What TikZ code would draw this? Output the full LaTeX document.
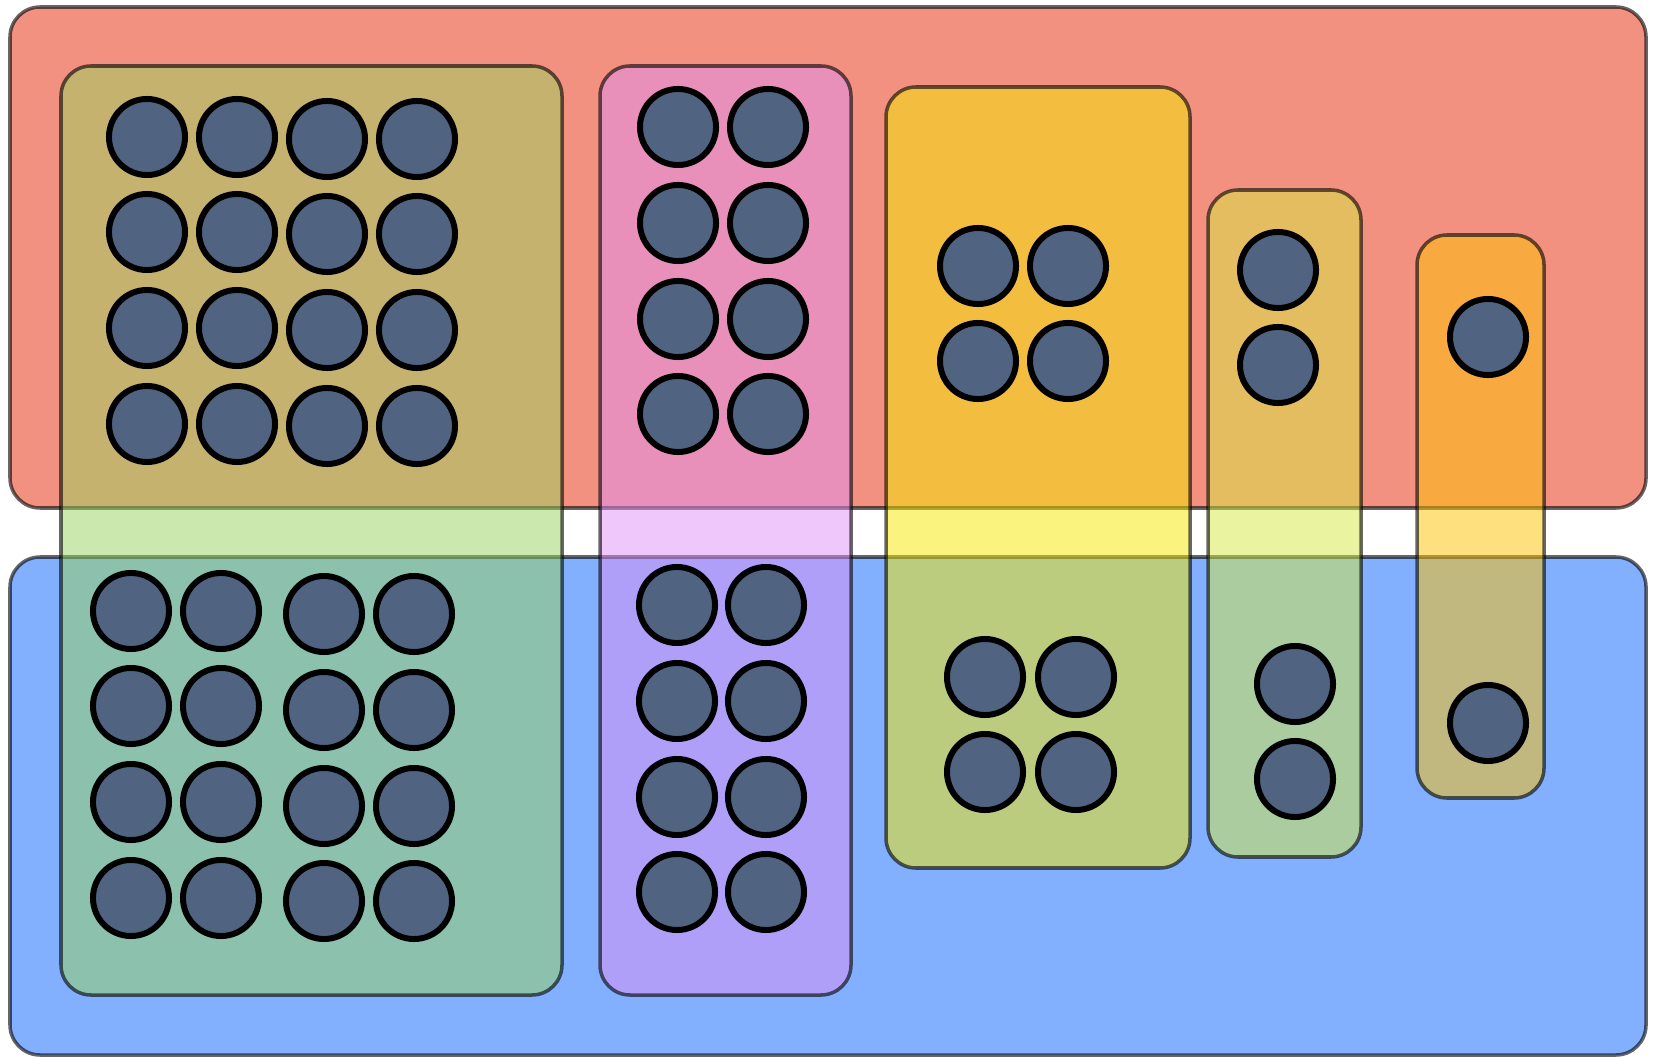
\documentclass[tikz,border=0pt]{standalone}
\definecolor{topred}{RGB}{242,145,128}
\definecolor{botblue}{RGB}{130,176,255}
\definecolor{boxgreen}{RGB}{151,211,93}
\definecolor{boxpink}{RGB}{223,143,245}
\definecolor{boxyellow}{RGB}{245,233,0}
\definecolor{boxlime}{RGB}{213,233,65}
\definecolor{boxorange}{RGB}{255,193,0}
\definecolor{ballblue}{RGB}{80,100,130}
\begin{document}
\begin{tikzpicture}[x=0.01cm, y=-0.01cm,
  ball/.style={circle, draw=black, line width=1.7pt, fill=ballblue, minimum size=0.76cm, inner sep=0pt},
  band/.style={draw=black, draw opacity=0.6, line width=1pt, rounded corners=0.3cm},
  bin/.style={draw=black, draw opacity=0.6, fill opacity=0.5, line width=1pt, rounded corners=0.3cm}]
\useasboundingbox (0,0) rectangle (1655,1058);
\filldraw[band, fill=topred] (10,7) rectangle (1646,508);
\filldraw[band, fill=botblue] (10,557) rectangle (1646,1055);
  \filldraw[bin, fill=boxgreen] (61,66) rectangle (562,995);
  \filldraw[bin, fill=boxpink] (600,66) rectangle (851,995);
  \filldraw[bin, fill=boxyellow] (886,87) rectangle (1190,868);
  \filldraw[bin, fill=boxlime] (1208,190) rectangle (1361,857);
  \filldraw[bin, fill=boxorange] (1417,235) rectangle (1544,798);
% first box, top
\node[ball] (a1) at (147,137) {};
\node[ball] (a2) at (237,137) {};
\node[ball] (a3) at (327,139) {};
\node[ball] (a4) at (417,139) {};
\node[ball] (a5) at (147,232) {};
\node[ball] (a6) at (237,232) {};
\node[ball] (a7) at (327,234) {};
\node[ball] (a8) at (417,234) {};
\node[ball] (a9) at (147,328) {};
\node[ball] (a10) at (237,328) {};
\node[ball] (a11) at (327,330) {};
\node[ball] (a12) at (417,330) {};
\node[ball] (a13) at (147,424) {};
\node[ball] (a14) at (237,424) {};
\node[ball] (a15) at (327,426) {};
\node[ball] (a16) at (417,426) {};
% first box, bottom
\node[ball] (b1) at (131,611) {};
\node[ball] (b2) at (221,611) {};
\node[ball] (b3) at (324,614) {};
\node[ball] (b4) at (414,614) {};
\node[ball] (b5) at (131,706) {};
\node[ball] (b6) at (221,706) {};
\node[ball] (b7) at (324,710) {};
\node[ball] (b8) at (414,710) {};
\node[ball] (b9) at (131,802) {};
\node[ball] (b10) at (221,802) {};
\node[ball] (b11) at (324,806) {};
\node[ball] (b12) at (414,806) {};
\node[ball] (b13) at (131,898) {};
\node[ball] (b14) at (221,898) {};
\node[ball] (b15) at (324,901) {};
\node[ball] (b16) at (414,901) {};
% second box
\node[ball] (c1) at (678,127) {};
\node[ball] (c2) at (768,127) {};
\node[ball] (c3) at (678,223) {};
\node[ball] (c4) at (768,223) {};
\node[ball] (c5) at (678,319) {};
\node[ball] (c6) at (768,319) {};
\node[ball] (c7) at (678,414) {};
\node[ball] (c8) at (768,414) {};
\node[ball] (d1) at (677,605) {};
\node[ball] (d2) at (766,605) {};
\node[ball] (d3) at (677,701) {};
\node[ball] (d4) at (766,701) {};
\node[ball] (d5) at (677,797) {};
\node[ball] (d6) at (766,797) {};
\node[ball] (d7) at (677,892) {};
\node[ball] (d8) at (766,892) {};
% third box
\node[ball] (e1) at (978,266) {};
\node[ball] (e2) at (1068,266) {};
\node[ball] (e3) at (978,361) {};
\node[ball] (e4) at (1068,361) {};
\node[ball] (f1) at (985,677) {};
\node[ball] (f2) at (1076,677) {};
\node[ball] (f3) at (985,772) {};
\node[ball] (f4) at (1076,772) {};
% fourth and fifth box
\node[ball] (g1) at (1278,270) {};
\node[ball] (g2) at (1278,365) {};
\node[ball] (h1) at (1295,684) {};
\node[ball] (h2) at (1295,779) {};
\node[ball] (i1) at (1488,337) {};
\node[ball] (j1) at (1488,723) {};
\end{tikzpicture}
\end{document}
